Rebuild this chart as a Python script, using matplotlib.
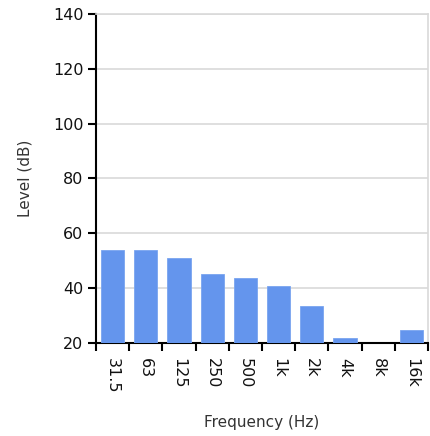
import numpy as np
import matplotlib
matplotlib.use('Agg')
import matplotlib.pyplot as plt

# Octave band levels
bands = ["31.5", "63", "125", "250", "500", "1k", "2k", "4k", "8k", "16k"]
levels = [54.0, 54.0, 51.0, 45.2, 43.8, 40.9, 33.6, 22.0, np.nan, 24.9]
y_ticks = [20, 40, 60, 80, 100, 120, 140]

BAR = "#6495ED"
GRID = "#d9d9d9"
TEXT = "#111111"

fig = plt.figure(figsize=(4.30, 4.36), dpi=100)
ax = fig.add_axes([0.2233, 0.2133, 0.772, 0.7546])

x = np.arange(len(bands))
base = y_ticks[0]
heights = np.array(levels) - base
ax.bar(x, heights, bottom=base, width=0.7, color=BAR, edgecolor="#7aa5f0", lw=0.6, zorder=3)

ax.set_xlim(-0.5, len(bands) - 0.5)
ax.set_ylim(y_ticks[0], y_ticks[-1])
ax.set_yticks(y_ticks)
ax.yaxis.grid(True, color=GRID, lw=1.2, zorder=0)

# boundary ticks (major), labels at band centres (minor)
ax.set_xticks(np.arange(len(bands) + 1) - 0.5)
ax.set_xticklabels([])
ax.set_xticks(x, minor=True)
ax.set_xticklabels(bands, minor=True, rotation=-90, va="top", ha="center")
ax.tick_params(axis="x", which="major", length=6, width=1.5, color="black", direction="out")
ax.tick_params(axis="x", which="minor", length=0, pad=11, labelsize=11.5, labelcolor=TEXT)
ax.tick_params(axis="y", length=6, width=1.5, color="black", direction="out", pad=3,
               labelsize=11.5, labelcolor=TEXT)

for s in ("left", "bottom"):
    ax.spines[s].set_color("black")
    ax.spines[s].set_linewidth(1.5)
for s in ("top", "right"):
    ax.spines[s].set_color(GRID)
    ax.spines[s].set_linewidth(1.2)

ax.set_ylabel("Level (dB)", fontsize=11, color="#333333", labelpad=15)
ax.set_xlabel("Frequency (Hz)", fontsize=11, color="#333333", labelpad=15)

fig.savefig("out.png", dpi=100)
